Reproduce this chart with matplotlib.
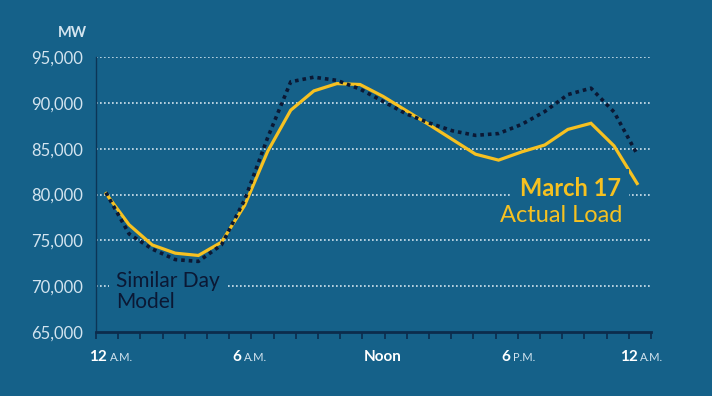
import numpy as np
import matplotlib.pyplot as plt

# Почасовые данные (час окончания 1..24), МВт
hours = np.arange(1, 25)
actual_load = [80100, 76700, 74500, 73600, 73350, 74800, 78800, 84700,
               89200, 91300, 92100, 92000, 90700, 89150, 87600, 86000,
               84400, 83750, 84650, 85400, 87100, 87770, 85300, 81200]
similar_day = [80200, 75700, 74050, 72900, 72700, 74500, 79400, 86200,
               92300, 92800, 92450, 91500, 90150, 88800, 87800, 86950,
               86450, 86650, 87650, 89050, 90900, 91600, 89000, 84400]

y_ticks = [65000, 70000, 75000, 80000, 85000, 90000, 95000]
x_labels = [("12", "A.M."), ("6", "A.M."), ("Noon", ""), ("6", "P.M."), ("12", "A.M.")]
x_label_pos = [1.11, 6.91, 13.0, 18.58, 24.08]

BG = "#156189"
YELLOW = "#f6c121"
NAVY = "#0b1834"
LIGHT = "#d3e4ef"

if __name__ == "__main__":
    plt.rcParams['font.family'] = ['Lato', 'DejaVu Sans']

    fig = plt.figure(figsize=(7.12, 3.96), dpi=100, facecolor=BG)
    ax = fig.add_axes([96 / 712, 64 / 396, 555 / 712, 275 / 396])
    ax.set_facecolor(BG)

    xmin, xmax = 0.567, 24.6
    ax.set_xlim(xmin, xmax)
    ax.set_ylim(65000, 95000)

    # пунктирная сетка
    for v in y_ticks[1:]:
        ax.axhline(v, color=LIGHT, lw=1.2, ls=(0, (1, 1.4)), zorder=1)

    ax.plot(hours, actual_load, color=YELLOW, lw=2.3, zorder=3,
            solid_joinstyle='miter')
    ax.plot(hours, similar_day, color=NAVY, lw=2.6, ls=(0, (1, 1.1)),
            zorder=4, dash_capstyle='butt')

    ax.set_yticks(y_ticks)
    ax.set_yticklabels([f"{v:,}" for v in y_ticks], color=LIGHT,
                       fontsize=12)
    ax.tick_params(axis='y', length=0, pad=9)

    ax.set_xticks(np.linspace(xmin, xmax, 26))
    ax.set_xticklabels([])
    ax.tick_params(axis='x', length=5, width=1.2, color="#0c2c4c", direction='out')

    for s in ['top', 'right']:
        ax.spines[s].set_visible(False)
    ax.spines['bottom'].set_color("#0c2c4c")
    ax.spines['bottom'].set_linewidth(2)
    ax.spines['left'].set_color("#0c3556")
    ax.spines['left'].set_linewidth(1)

    # подписи оси X: жирное число + мелкий суффикс
    for (num, suf), xp in zip(x_labels, x_label_pos):
        if suf:
            ax.annotate(num, (xp, 0), xycoords=('data', 'axes fraction'),
                        xytext=(-1, -18), textcoords='offset points',
                        ha='right', va='center', color='white',
                        fontsize=11, fontweight='bold')
            ax.annotate(suf, (xp, 0), xycoords=('data', 'axes fraction'),
                        xytext=(1, -18.5), textcoords='offset points',
                        ha='left', va='center', color=LIGHT, fontsize=8)
        else:
            ax.annotate(num, (xp, 0), xycoords=('data', 'axes fraction'),
                        xytext=(0, -18), textcoords='offset points',
                        ha='center', va='center', color='white',
                        fontsize=11, fontweight='bold')

    fig.text(87 / 712, 1 - 33 / 396, "MW", ha='right', va='center',
             color=LIGHT, fontsize=10.5, fontweight='bold')

    ax.text(23.3, 80600, "March 17", ha='right', va='center', color=YELLOW,
            fontsize=17, fontweight='bold', zorder=5,
            bbox=dict(facecolor=BG, edgecolor='none', pad=6))
    ax.text(23.35, 77660, "Actual Load", ha='right', va='center',
            color=YELLOW, fontsize=17, zorder=5)
    ax.text(1.43, 71700, "Similar Day\nModel", ha='left', va='top',
            color=NAVY, fontsize=15, linespacing=1.1, zorder=5,
            bbox=dict(facecolor=BG, edgecolor='none', pad=5))

    fig.savefig("out.png", dpi=100, facecolor=BG)
